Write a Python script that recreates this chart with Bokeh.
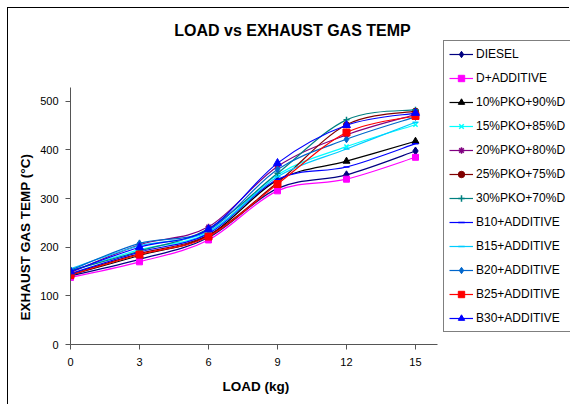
from bokeh.plotting import figure
from bokeh.models import Range1d, Legend, LegendItem, FixedTicker, Label, Title
from bokeh.embed import file_html
from bokeh.resources import INLINE

load = [0, 3, 6, 9, 12, 15]
diesel = [141, 175, 220, 321, 349, 398]
d_add = [138, 170, 215, 316, 340, 385]
pko10 = [143, 183, 224, 338, 377, 418]
pko15 = [150, 195, 230, 349, 407, 452]
pko20 = [148, 205, 242, 366, 431, 473]
pko25 = [145, 187, 225, 333, 452, 480]
pko30 = [152, 192, 238, 352, 462, 483]
b10 = [146, 190, 228, 340, 365, 413]
b15 = [156, 203, 232, 345, 402, 457]
b20 = [153, 208, 235, 360, 422, 468]
b25 = [143, 185, 222, 330, 436, 470]
b30 = [150, 200, 237, 373, 451, 476]

names = ["DIESEL", "D+ADDITIVE", "10%PKO+90%D", "15%PKO+85%D", "20%PKO+80%D",
         "25%PKO+75%D", "30%PKO+70%D", "B10+ADDITIVE", "B15+ADDITIVE",
         "B20+ADDITIVE", "B25+ADDITIVE", "B30+ADDITIVE"]
series = [diesel, d_add, pko10, pko15, pko20, pko25, pko30, b10, b15, b20, b25, b30]
styles = [
    ("#000080", "diamond", 8),
    ("#FF00FF", "square", 6),
    ("#000000", "triangle", 7),
    ("#00FFFF", "x", 6),
    ("#800080", "asterisk", 6),
    ("#800000", "circle", 6),
    ("#008080", "cross", 6),
    ("#0000FF", "dash", 6),
    ("#00CCFF", "dash", 6),
    ("#0066CC", "diamond", 7),
    ("#FF0000", "square", 7),
    ("#0000FF", "triangle", 8),
]

# frame: x 0 -> px 70, 15 -> px 415 ; y 0 -> px 344, 500 -> px 101
p = figure(width=562, height=397, output_backend="svg", toolbar_location=None,
           x_range=Range1d(0, 21.74), y_range=Range1d(0, 691),
           min_border_left=62, min_border_right=0, min_border_top=0,
           min_border_bottom=61)
p.outline_line_color = None
p.background_fill_color = "white"
p.border_fill_color = "white"
p.styles = {"margin-left": "7px", "margin-top": "7px",
            "border-left": "1px solid black", "border-top": "1px solid black"}
p.xgrid.visible = False
p.ygrid.visible = False

for ax in (p.xaxis, p.yaxis):
    ax.axis_line_color = "#555555"
    ax.major_tick_line_color = "#555555"
    ax.minor_tick_line_color = None
    ax.major_tick_in = 0
    ax.major_tick_out = 5
    ax.major_label_text_font = "Liberation Sans"
    ax.major_label_text_font_size = "11px"
    ax.major_label_text_color = "black"

p.xaxis.major_label_standoff = 8
p.yaxis.major_label_standoff = 7
p.xaxis.ticker = FixedTicker(ticks=load)
p.yaxis.ticker = FixedTicker(ticks=[0, 100, 200, 300, 400, 500])
p.xaxis.bounds = (0, 15.95)
p.yaxis.bounds = (0, 528)

xlab = Title(text="LOAD (kg)", align="left", offset=152, standoff=17,
             text_font="Liberation Sans", text_font_size="13.5px",
             text_font_style="bold", text_color="black")
p.add_layout(xlab, "below")
ylab = Title(text="EXHAUST GAS TEMP (\u00b0C)", align="left", offset=24, standoff=10,
             text_font="Liberation Sans", text_font_size="13.5px",
             text_font_style="bold", text_color="black")
p.add_layout(ylab, "left")


def smooth(xs, ys):
    n = len(xs)
    x0, y0, x1, y1, cx0, cy0, cx1, cy1 = [], [], [], [], [], [], [], []
    for i in range(n - 1):
        xm, ym = (xs[i - 1], ys[i - 1]) if i > 0 else (xs[i], ys[i])
        xp, yp = (xs[i + 2], ys[i + 2]) if i + 2 < n else (xs[i + 1], ys[i + 1])
        x0.append(xs[i]); y0.append(ys[i])
        x1.append(xs[i + 1]); y1.append(ys[i + 1])
        cx0.append(xs[i] + (xs[i + 1] - xm) / 6); cy0.append(ys[i] + (ys[i + 1] - ym) / 6)
        cx1.append(xs[i + 1] - (xp - xs[i]) / 6); cy1.append(ys[i + 1] - (yp - ys[i]) / 6)
    return dict(x0=x0, y0=y0, x1=x1, y1=y1, cx0=cx0, cy0=cy0, cx1=cx1, cy1=cy1)


items = []
for name, ys, (col, mk, sz) in zip(names, series, styles):
    d = smooth(load, ys)
    r1 = p.bezier(x0=d["x0"], y0=d["y0"], x1=d["x1"], y1=d["y1"],
                  cx0=d["cx0"], cy0=d["cy0"], cx1=d["cx1"], cy1=d["cy1"],
                  line_color=col, line_width=1.2)
    r2 = p.scatter(load, ys, marker=mk, size=sz, fill_color=col, line_color=col,
                   line_width=1.5 if mk in ("x", "asterisk", "cross", "dash") else 1)
    items.append(LegendItem(label=name, renderers=[r1, r2]))

legend = Legend(items=items, location=(373, 12))
legend.border_line_color = "black"
legend.border_line_width = 1
legend.background_fill_alpha = 1
legend.label_text_font = "Liberation Sans"
legend.label_text_font_size = "12px"
legend.label_text_color = "black"
legend.glyph_width = 24
legend.glyph_height = 16
legend.label_height = 16
legend.spacing = 8
legend.padding = 5
legend.margin = 0
legend.label_standoff = 3
p.add_layout(legend)

title = Label(x=222, y=314, x_units="screen", y_units="screen",
              text="LOAD vs EXHAUST GAS TEMP", text_align="center",
              text_baseline="middle", text_font="Liberation Sans",
              text_font_size="16px", text_font_style="bold", text_color="black")
p.add_layout(title)

open("out.html", "w").write(file_html(p, INLINE))
